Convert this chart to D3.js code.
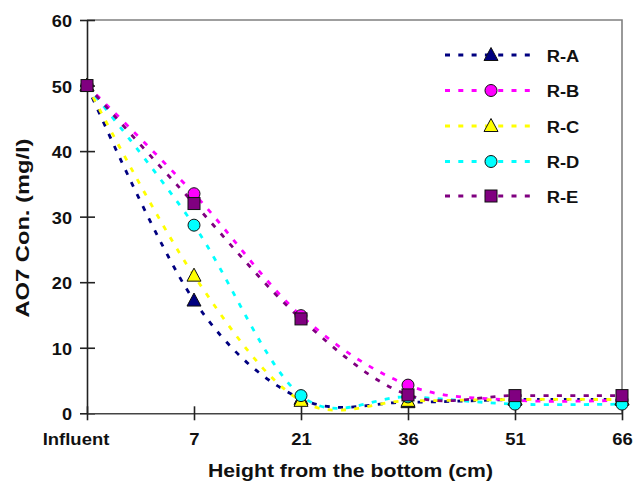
<!DOCTYPE html>
<html>
<head>
<meta charset="utf-8">
<script src="https://cdn.jsdelivr.net/npm/d3@7"></script>
<style>
  body { margin: 0; background: #fff; }
  text { font-family: "Liberation Sans", Arial, sans-serif; font-weight: bold; fill: #111; }
</style>
</head>
<body>
<svg id="chart" width="634" height="481"></svg>
<script>
// data
const categories = ['Influent', '7', '21', '36', '51', '66'];
const seriesNames = ['R-A', 'R-B', 'R-C', 'R-D', 'R-E'];
const rA = [50, 17.2, 2.2, 1.7, 2.1, 2.1];
const rB = [50, 33.5, 14.9, 4.3, 2.0, 2.0];
const rC = [50, 21.0, 1.9, 1.9, 2.1, 2.1];
const rD = [50, 28.7, 2.7, 2.5, 1.4, 1.4];
const rE = [50, 32.0, 14.4, 2.8, 2.7, 2.7];
const yTicks = [0, 10, 20, 30, 40, 50, 60];

const colors = ['#000080', '#ff00ff', '#ffff00', '#00ffff', '#800080'];
const shapes = ['triangle', 'circle', 'triangle', 'circle', 'square'];
const allSeries = [rA, rB, rC, rD, rE];

const svg = d3.select('#chart');
const plotLeft = 87, plotRight = 622, plotTop = 20, plotBottom = 413.3;

const x = d3.scalePoint().domain(categories).range([plotLeft, plotRight]);
const y = d3.scaleLinear().domain([0, 60]).range([plotBottom, plotTop]);

// frame (top / right in grey)
svg.append('path')
   .attr('d', `M${plotLeft},${plotTop}H${plotRight}V${plotBottom}`)
   .attr('fill', 'none')
   .attr('stroke', '#808080')
   .attr('stroke-width', 1.6);

// y axis
const yAxis = svg.append('g')
   .attr('transform', `translate(${plotLeft},0)`)
   .call(d3.axisLeft(y).tickValues(yTicks).tickSize(0).tickSizeOuter(0).tickPadding(0));
yAxis.select('.domain').attr('stroke', '#222').attr('stroke-width', 1.6);
yAxis.selectAll('.tick line').attr('x1', 8).attr('x2', -7).attr('stroke', '#222').attr('stroke-width', 1.6);
yAxis.selectAll('.tick text')
   .attr('x', 0).attr('dy', '0.4em')
   .attr('transform', 'translate(-15,0) scale(1.1,1)')
   .style('font-size', '16.5px');

// x axis
const xAxis = svg.append('g')
   .attr('transform', `translate(0,${plotBottom})`)
   .call(d3.axisBottom(x).tickSize(0).tickSizeOuter(0).tickPadding(0));
xAxis.select('.domain').attr('stroke', '#444').attr('stroke-width', 1.6);
xAxis.selectAll('.tick line').attr('y1', -7).attr('y2', 7).attr('stroke', '#222').attr('stroke-width', 1.6);
xAxis.selectAll('.tick text')
   .attr('y', 31.7).attr('dy', 0)
   .attr('transform', (d, i) => i === 0 ? 'translate(-11.5,0) scale(1.12,1)' : 'scale(1.12,1)')
   .style('font-size', '16.5px');

// axis titles
svg.append('text')
   .attr('x', 350.5).attr('y', 476.7)
   .attr('text-anchor', 'middle')
   .attr('textLength', 285).attr('lengthAdjust', 'spacingAndGlyphs')
   .style('font-size', '18.6px')
   .text('Height from the bottom (cm)');

svg.append('text')
   .attr('transform', 'translate(28.5,228) rotate(-90)')
   .attr('text-anchor', 'middle')
   .attr('textLength', 179).attr('lengthAdjust', 'spacingAndGlyphs')
   .style('font-size', '18.6px')
   .text('AO7 Con. (mg/l)');

// lines
const line = d3.line()
   .x((d, i) => x(categories[i]))
   .y(d => y(d))
   .curve(d3.curveCardinal);

svg.append('g').selectAll('path')
   .data(allSeries)
   .join('path')
   .attr('d', line)
   .attr('fill', 'none')
   .attr('stroke', (d, i) => colors[i])
   .attr('stroke-width', 2.8)
   .attr('stroke-dasharray', '5,8.3');

function marker(g, shape, color) {
   if (shape === 'circle') {
      g.append('circle').attr('r', 6);
   } else if (shape === 'square') {
      g.append('rect').attr('x', -6).attr('y', -6).attr('width', 12).attr('height', 12);
   } else {
      g.append('path').attr('d', 'M0,-7.5L7,5.5L-7,5.5Z');
   }
   g.selectAll('*').attr('fill', color).attr('stroke', '#111').attr('stroke-width', 1);
}

// markers
allSeries.forEach((vals, s) => {
   const g = svg.append('g');
   vals.forEach((v, i) => {
      const m = g.append('g').attr('transform', `translate(${x(categories[i])},${y(v)})`);
      marker(m, shapes[s], colors[s]);
   });
});

// legend
const legendY = [55, 90.5, 126, 161.5, 196];
seriesNames.forEach((name, i) => {
   const g = svg.append('g').attr('transform', `translate(0,${legendY[i]})`);
   g.append('line')
      .attr('x1', 445).attr('x2', 532)
      .attr('stroke', colors[i]).attr('stroke-width', 2.8)
      .attr('stroke-dasharray', '5,8.3');
   const m = g.append('g').attr('transform', 'translate(491,0)');
   marker(m, shapes[i], colors[i]);
   g.append('text')
      .attr('x', 0).attr('y', 6.5)
      .attr('transform', 'translate(546.7,0) scale(1.08,1)')
      .style('font-size', '17px')
      .text(name);
});
</script>
</body>
</html>
